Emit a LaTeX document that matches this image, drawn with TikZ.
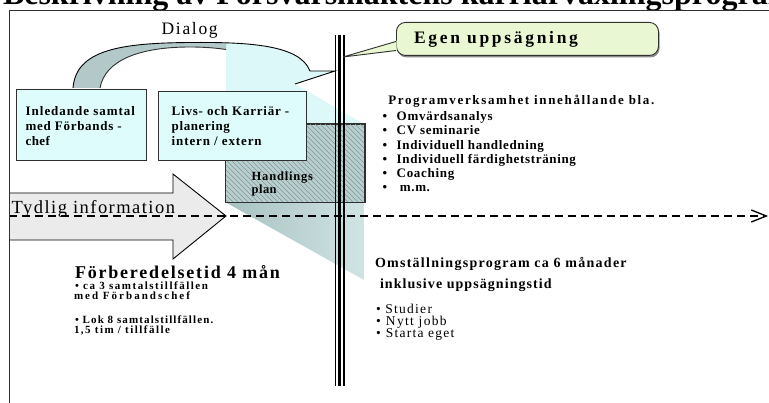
\documentclass[tikz,border=0pt]{standalone}
\usepackage{fontspec}
\setmainfont{Liberation Serif}
\usetikzlibrary{arrows.meta}
\definecolor{boxcyan}{HTML}{DEFCFC}
\definecolor{fancyan}{HTML}{DDF8F8}
\definecolor{bandgray}{HTML}{B3C9C9}
\definecolor{hatchfill}{HTML}{B9CFCF}
\definecolor{hatchline}{HTML}{7F9797}
\definecolor{trileft}{HTML}{A7C1C1}
\definecolor{triright}{HTML}{D0E4E4}
\definecolor{callgreen}{HTML}{E9F8D3}
\definecolor{arrowgray}{HTML}{EBEBEB}
\definecolor{edge}{HTML}{303030}
\newcommand\fB[1]{\fontsize{#1}{#1}\selectfont\bfseries}
\newcommand\fR[1]{\fontsize{#1}{#1}\selectfont}
\newlength\fitwa \newlength\fitwb
% #1 font set-up, #2 target width in pt, #3 text: letter spacing chosen so the text is #2 wide
\newcommand\fitto[3]{%
  \settowidth\fitwa{#1#3}%
  \settowidth\fitwb{#1\addfontfeature{LetterSpace=10}#3}%
  \pgfmathsetmacro\fitls{10*(#2-\fitwa)/(\fitwb-\fitwa)}%
  {#1\addfontfeature{LetterSpace=\fitls}#3}}
\begin{document}
\begin{tikzpicture}[x=1pt,y=-1pt,
  lbl/.style={anchor=base west, inner sep=0pt, outer sep=0pt},
  boxsty/.style={draw=edge, line width=1.1pt, fill=boxcyan, anchor=north west, inner sep=0pt},
  rail/.style={black}
]
\useasboundingbox (0,0) rectangle (769,403);
\clip (0,0) rectangle (769,403);

% title (cut at the top)
\node[lbl] (title) at (3,4.5) {\fB{32}Beskrivning av Försvarsmaktens karriärväxlingsprogram};

% light cyan fan and right part of the dialog arrow
\begin{scope}
  \clip (226,0) rectangle (400,130);
  \fill[fancyan] (190,42.5) .. controls (250,42) and (300,45) .. (310,71) -- (335,71) -- (295,84) -- (364,124) -- (190,124) -- cycle;
\end{scope}
% grey left part of the dialog arrow
\begin{scope}
  \clip (0,0) rectangle (226,100);
  \fill[bandgray] (73,88) .. controls (76,50) and (120,43) .. (190,42.5) .. controls (250,42) and (300,45) .. (310,71) -- (335,71) -- (295,84) .. controls (280,60) and (240,47) .. (190,47) .. controls (140,47) and (105,60) .. (100,88) -- cycle;
  \draw[edge, line width=0.9pt] (100,88) .. controls (105,60) and (140,47) .. (190,47) .. controls (240,47) and (280,60) .. (295,84);
\end{scope}
\draw[black, line width=0.9pt] (73,88) .. controls (76,50) and (120,43) .. (190,42.5) .. controls (250,42) and (300,45) .. (310,71) -- (335,71) -- (295,84);
\node[lbl] (dialog) at (161.7,35) {\fitto{\fR{17.5}}{56}{Dialog}};

% shaded triangle below the plan
\shade[left color=trileft, right color=triright] (225,202) -- (364,202) -- (364,280) -- cycle;

% hatched action plan box
\node[boxsty, fill=hatchfill, line width=1pt, minimum width=139pt, minimum height=78pt] (hplan) at (225,124) {};
\begin{scope}
  \clip (225,124) rectangle (364,202);
  \foreach \k in {-85,-80,...,145} \draw[hatchline, line width=0.4pt] ({225+\k},124) -- ++(80,80);
\end{scope}
\draw[edge, line width=1pt] (hplan.north west) rectangle (hplan.south east);
\node[lbl] (hp1) at (251.7,181) {\fitto{\fB{12.5}}{61.3}{Handlings}};
\node[lbl] (hp2) at (251.7,193.5) {\fitto{\fB{12.5}}{25}{plan}};

% two boxes
\node[boxsty, minimum width=130pt, minimum height=71pt] (inl) at (16,89) {};
\node[lbl] (inl1) at (25.7,116) {\fitto{\fB{13}}{109.3}{Inledande samtal}};
\node[lbl] (inl2) at (25.7,131) {\fitto{\fB{13}}{96}{med Förbands -}};
\node[lbl] (inl3) at (25.7,146) {\fitto{\fB{13}}{24.3}{chef}};
\node[boxsty, minimum width=148pt, minimum height=69pt] (livs) at (158,91) {};
\node[lbl] (livs1) at (171.7,116) {\fitto{\fB{13}}{117.6}{Livs- och Karriär -}};
\node[lbl] (livs2) at (171.7,131) {\fitto{\fB{13}}{58.3}{planering}};
\node[lbl] (livs3) at (171.7,146) {\fitto{\fB{13}}{90}{intern  / extern}};

% block arrow
\draw[fill=arrowgray, line width=0.9pt] (9,193) -- (173,193) -- (173,174) -- (226,216) -- (173,259) -- (173,240) -- (9,240);

% dashed time line
\coordinate (dashL) at (9,216);
\coordinate (dashR) at (768,216);
\draw[line width=1.4pt, dash pattern=on 8pt off 5pt, -{Straight Barb[length=15pt,width=12pt,line width=1.3pt]}] (dashL) -- (dashR);
\node[lbl] (tydlig) at (11.7,213.3) {\fitto{\fR{18.5}}{163.3}{Tydlig information}};

% vertical rails
\coordinate (vA) at (335,35);  \coordinate (vAb) at (335,386);
\coordinate (vB) at (339.5,35); \coordinate (vBb) at (339.5,386);
\coordinate (vC) at (344,35);  \coordinate (vCb) at (344,386);
\draw[rail, line width=1pt] (vA) -- (vAb);
\draw[rail, line width=3.5pt] (vB) -- (vBb);
\draw[rail, line width=1.2pt] (vC) -- (vCb);

% callout
\fill[black!45, rounded corners=9pt] (397.5,24) rectangle (659.5,57.5);
\node[boxsty, fill=callgreen, line width=0.9pt, rounded corners=9pt, minimum width=262pt, minimum height=33pt] (callout) at (396,22) {};
\coordinate (calltip) at (343,57);
\fill[callgreen] (396.7,40.5) -- (calltip) -- (396.7,51.5) -- cycle;
\draw[edge, line width=0.9pt] (396,41.5) -- (calltip) -- (396,50.5);
\node[lbl] (egen) at (414,43.3) {\fitto{\fB{17.5}}{164}{Egen uppsägning}};

% programme text
\node[lbl] (p0) at (388.3,105) {\fitto{\fB{13}}{266}{Programverksamhet innehållande bla.}};
\node[lbl] (p1) at (382.7,120.5) {\fB{13}\makebox[14pt][l]{•}\fitto{\fB{13}}{96}{Omvärdsanalys}};
\node[lbl] (p2) at (382.7,134.8) {\fB{13}\makebox[14pt][l]{•}\fitto{\fB{13}}{83.3}{CV seminarie}};
\node[lbl] (p3) at (382.7,149.1) {\fB{13}\makebox[14pt][l]{•}\fitto{\fB{13}}{147.3}{Individuell handledning}};
\node[lbl] (p4) at (382.7,163.4) {\fB{13}\makebox[14pt][l]{•}\fitto{\fB{13}}{179.3}{Individuell färdighetsträning}};
\node[lbl] (p5) at (382.7,177.7) {\fB{13}\makebox[14pt][l]{•}\fitto{\fB{13}}{57.6}{Coaching}};
\node[lbl] (p6) at (382.7,192) {\fB{13}\makebox[17.3pt][l]{•}\fitto{\fB{13}}{30}{m.m.}};

% preparation
\node[lbl] (forb) at (75,278.3) {\fitto{\fB{18}}{205}{Förberedelsetid 4 mån}};
\node[lbl] (f1) at (75,289.5) {\fitto{\fB{11}}{133}{• ca 3 samtalstillfällen}};
\node[lbl] (f2) at (74,300) {\fitto{\fB{11}}{116}{med Förbandschef}};
\node[lbl] (f3) at (75,323.3) {\fitto{\fB{11}}{138.3}{• Lok 8 samtalstillfällen.}};
\node[lbl] (f4) at (74,334) {\fitto{\fB{11}}{96}{1,5 tim / tillfälle}};

% transition programme
\node[lbl] (o1) at (375,267.7) {\fitto{\fB{14}}{251.7}{Omställningsprogram ca 6 månader}};
\node[lbl] (o2) at (380,288.3) {\fitto{\fB{14}}{171.7}{inklusive uppsägningstid}};
\node[lbl] (s1) at (376,313.3) {\fR{13.5}\makebox[9.3pt][l]{•}\fitto{\fR{13.5}}{46.7}{Studier}};
\node[lbl] (s2) at (376,325.7) {\fR{13.5}\makebox[10pt][l]{•}\fitto{\fR{13.5}}{60.7}{Nytt jobb}};
\node[lbl] (s3) at (376,337.7) {\fR{13.5}\makebox[10pt][l]{•}\fitto{\fR{13.5}}{68.3}{Starta eget}};

% frame
\draw[edge, line width=1pt] (9,403) -- (9,10.5) -- (769,10.5);
\end{tikzpicture}
\end{document}
